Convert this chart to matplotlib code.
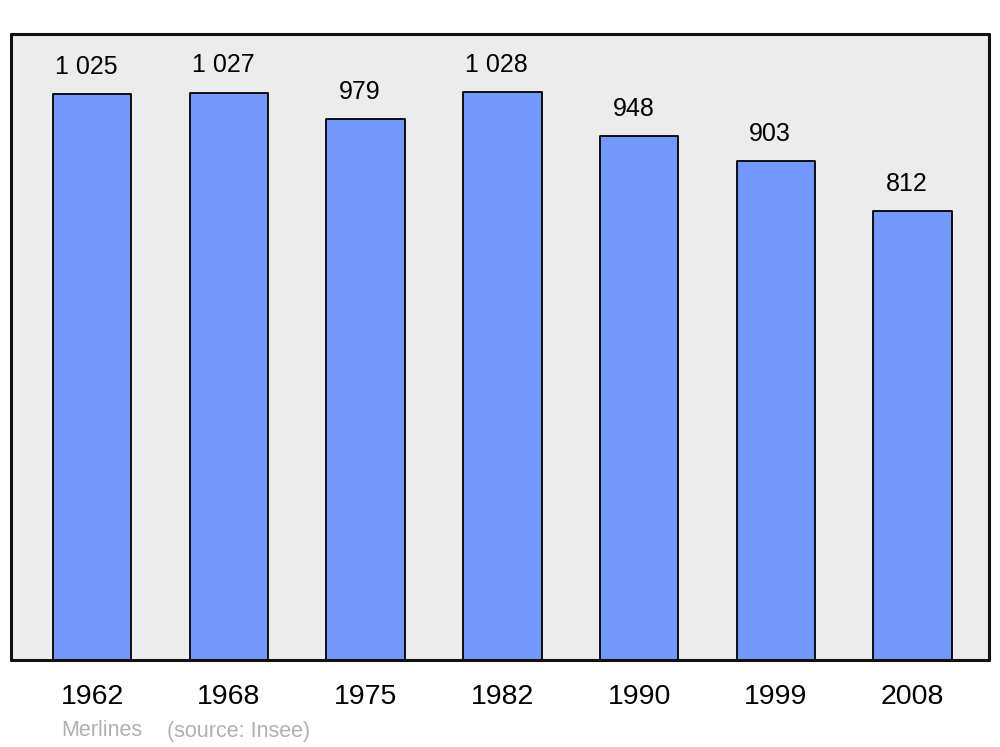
import matplotlib
matplotlib.use("Agg")
import matplotlib.pyplot as plt

years = ["1962", "1968", "1975", "1982", "1990", "1999", "2008"]
population = [1025, 1027, 979, 1028, 948, 903, 812]
value_labels = ["1 025", "1 027", "979", "1 028", "948", "903", "812"]

plt.rcParams["font.family"] = ["Liberation Sans", "DejaVu Sans"]

fig = plt.figure(figsize=(10, 7.47), dpi=100)
ax = fig.add_axes([0.011, 87 / 747, 0.978, 626 / 747])
ax.set_facecolor("#ececec")

x = range(len(years))
bars = ax.bar(x, population, width=0.575, color="#7399ff",
              edgecolor="black", linewidth=1.3, zorder=2)

for b, lab in zip(bars, value_labels):
    b.set_joinstyle("round")
    ax.annotate(lab, (b.get_x() + b.get_width() / 2, b.get_height()),
                xytext=(-4, 19.5), textcoords="offset points",
                ha="center", va="center", fontsize=18)

ax.set_xlim(-0.593, 6.559)
ax.set_ylim(0, 1133)
ax.set_xticks(list(x))
ax.set_xticklabels(years, fontsize=20.5)
ax.tick_params(axis="x", length=0, pad=17)
ax.set_yticks([])
for s in ax.spines.values():
    s.set_linewidth(2.2)
    s.set_color("#111111")
    s.set_capstyle("round")

fig.text(0.061, 1 - 731 / 747, "Merlines", color="#b0b0b0", fontsize=15.5,
         ha="left", va="center")
fig.text(0.167, 1 - 731 / 747, "(source: Insee)", color="#b0b0b0",
         fontsize=15.5, ha="left", va="center")

fig.savefig("out.png", dpi=100, facecolor="white")
